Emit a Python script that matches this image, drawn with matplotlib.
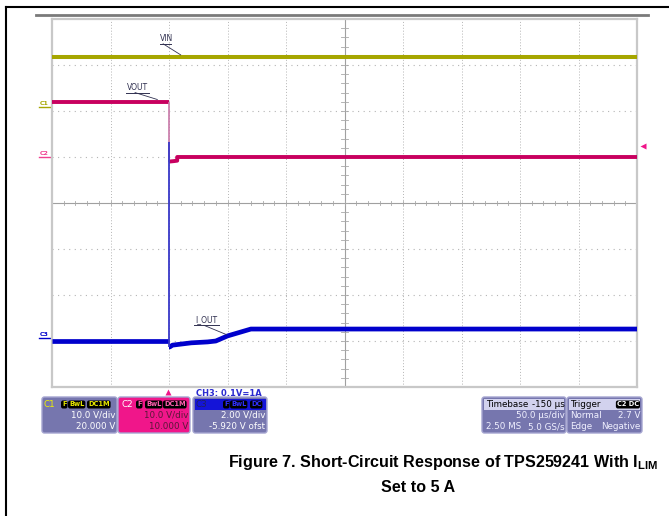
import matplotlib
matplotlib.use("Agg")
import matplotlib.pyplot as plt
from matplotlib.patches import FancyBboxPatch, Rectangle
import numpy as np

# ---------------- data (time in us relative to trigger, level in screen divisions, 0 = centre) -------------
vin_t = [-100, 400]
vin_y = [3.17, 3.17]

vout_pre_t = [-100, 0]
vout_pre_y = [2.20, 2.20]
vout_post_t = [0, 4, 7, 7, 400]
vout_post_y = [0.90, 0.91, 0.92, 1.00, 1.00]

iout_pre_t = [-100, 0]
iout_pre_y = [-3.00, -3.00]
iout_spike_peak = 1.33
iout_post_t = [0, 0.6, 3, 19, 33, 40, 50, 62, 70, 400]
iout_post_y = [-3.13, -3.13, -3.09, -3.04, -3.02, -3.00, -2.89, -2.80, -2.74, -2.74]

ch_markers = ["C1", "C2", "C3"]
ch_marker_levels = [2.09, 1.00, -2.93]

trace_labels = ["VIN", "VOUT", "I_OUT"]

c1_info = ["10.0 V/div", "20.000 V"]
c2_info = ["10.0 V/div", "10.000 V"]
c3_info = ["2.00 V/div", "-5.920 V ofst"]
timebase_info = ["-150 µs", "50.0 µs/div", "2.50 MS", "5.0 GS/s"]
trigger_info = ["C2 DC", "Normal", "2.7 V", "Edge", "Negative"]
probe_note = "CH3: 0.1V=1A"

caption1 = r"Figure 7. Short-Circuit Response of TPS259241 With I$_{\mathregular{LIM}}$"
caption2 = "Set to 5 A"

# ---------------- colours -------------
C_VIN = "#a6a600"
C_VOUT = "#c8005f"
C_IOUT = "#0000cc"
C_BOX = "#7676ae"
C_BOX_EDGE = "#a4a4d0"
C_PINK = "#f0168a"

W, H = 669, 516
fig = plt.figure(figsize=(W / 100, H / 100), dpi=100)

# overlay axes in pixel coordinates
ax0 = fig.add_axes([0, 0, 1, 1], zorder=0)
ax0.set_xlim(0, W)
ax0.set_ylim(H, 0)
ax0.axis("off")
ax0.patch.set_alpha(0)

# page frame
ax0.plot([6, W], [7, 7], color="black", lw=1.5)
ax0.plot([6, 6], [7, H], color="black", lw=1.5)
ax0.plot([36, 648], [15, 15], color="#7a7a7a", lw=2.0)

# scope axes
L, T, R, B = 52, 19, 637, 387
ax = fig.add_axes([L / W, 1 - B / H, (R - L) / W, (B - T) / H], zorder=2)
ax.set_xlim(-100, 400)
ax.set_ylim(-4, 4)
ax.patch.set_alpha(0)
for s in ax.spines.values():
    s.set_color("#c8c8c8")
    s.set_linewidth(1.6)
ax.set_xticks([])
ax.set_yticks([])

# grid
for x in np.arange(-50, 400, 50):
    if x == 150:
        continue
    ax.plot([x, x], [-4, 4], color="#b4b4b4", lw=0.7, ls=(0, (1, 2)), zorder=1)
for y in np.arange(-3, 4, 1):
    if y == 0:
        continue
    ax.plot([-100, 400], [y, y], color="#b4b4b4", lw=0.8, ls=(0, (1, 4)), zorder=1)
# centre lines with ticks
ax.plot([150, 150], [-4, 4], color="#a0a0a0", lw=0.8, zorder=1)
ax.plot([-100, 400], [0, 0], color="#a0a0a0", lw=0.8, zorder=1)
for y in np.arange(-4, 4.01, 0.2):
    ax.plot([147, 153], [y, y], color="#a8a8a8", lw=0.6, zorder=1)
for x in np.arange(-100, 400.1, 10):
    ax.plot([x, x], [-0.05, 0.05], color="#a8a8a8", lw=0.6, zorder=1)

# traces
ax.plot(vin_t, vin_y, color=C_VIN, lw=2.9, solid_capstyle="butt", zorder=3)
ax.plot(vout_pre_t, vout_pre_y, color=C_VOUT, lw=2.8, solid_capstyle="butt", zorder=4)
ax.plot(vout_post_t, vout_post_y, color=C_VOUT, lw=2.8, solid_capstyle="butt", zorder=4)
ax.vlines(vout_pre_t[-1], vout_post_y[0], vout_pre_y[-1], color="#c878a8", lw=1.2, zorder=4)
ax.plot(iout_pre_t, iout_pre_y, color=C_IOUT, lw=3.4, solid_capstyle="butt", zorder=5)
ax.plot(iout_post_t, iout_post_y, color=C_IOUT, lw=3.4, solid_capstyle="butt", zorder=5)
ax.vlines(iout_pre_t[-1], iout_post_y[0], iout_spike_peak, color="#3838c8", lw=1.3, zorder=5)

# trace labels with underline + leader
def label(txt, tx, ty, ux0, ux1, lx1, ly1):
    ax.text(tx, ty, txt, fontsize=5.5, color="#303050", ha="center", va="bottom", zorder=6,
            family="DejaVu Sans")
    ax.plot([ux0, ux1], [ty - 0.02, ty - 0.02], color="#303050", lw=0.7, zorder=6)
    ax.plot([(ux0 + ux1) / 2 - 2, lx1], [ty - 0.02, ly1], color="#303050", lw=0.6, zorder=6)

label(trace_labels[0], -2, 3.48, -8, 2, 10, vin_y[0] + 0.05)
label(trace_labels[1], -27, 2.42, -37, -17, -10, vout_pre_y[0] + 0.05)
label(trace_labels[2], 32, -2.64, 21, 43, 49, -2.86)

# channel markers on left side
mcols = [C_VIN, "#f04090", C_IOUT]
for name, lev, col in zip(ch_markers, ch_marker_levels, mcols):
    py = 203 - lev * 46
    ax0.text(44, py - 1, name, fontsize=4.5, color=col, ha="center", va="bottom", fontweight="bold")
    ax0.plot([39, 50], [py, py], color=col, lw=1.0)

# right-side trigger level marker and bottom trigger position marker
ax0.plot([643], [146], marker="<", color=C_PINK, ms=5, mec="none", clip_on=False)
ax0.plot([168], [392], marker="^", color=C_PINK, ms=5, mec="none", clip_on=False)

# ---------------- info boxes -------------
def box(x0, x1, fc, y0=397, y1=433):
    p = FancyBboxPatch((x0, y0), x1 - x0, y1 - y0, boxstyle="round,pad=0,rounding_size=2.5",
                       fc=fc, ec=C_BOX_EDGE, lw=1.0)
    ax0.add_patch(p)

def badge(x, y, txt, tc, ha="left"):
    ax0.text(x, y, txt, fontsize=4.8, color=tc, ha=ha, va="center", fontweight="bold",
             bbox=dict(boxstyle="round,pad=0.15,rounding_size=0.3", fc="black", ec="none"))

R1, R2, R3 = 404.5, 415.5, 426.5
fs = 6.3

box(42, 117, C_BOX)
ax0.text(44, R1, "C1", fontsize=fs, color="#f0f000", va="center")
badge(62, R1, "F", "#e8e800")
badge(69, R1, "BwL", "#e8e800")
badge(88, R1, "DC1M", "#e8e800")
ax0.text(115, R2, c1_info[0], fontsize=fs, color="white", ha="right", va="center")
ax0.text(115, R3, c1_info[1], fontsize=fs, color="white", ha="right", va="center")

box(118, 190, C_PINK)
ax0.text(121, R1, "C2", fontsize=fs, color="white", va="center")
badge(137, R1, "F", "#ff60b0")
badge(146, R1, "BwL", "#ff60b0")
badge(164, R1, "DC1M", "#ff60b0")
ax0.text(188, R2, c2_info[0], fontsize=fs, color="#5a1838", ha="right", va="center")
ax0.text(188, R3, c2_info[1], fontsize=fs, color="#5a1838", ha="right", va="center")

box(193, 267, C_BOX)
ax0.add_patch(Rectangle((194.5, 398.5), 71, 11, fc="#1414d8", ec="none"))
ax0.text(196, R1, "C3", fontsize=fs, color="#202060", va="center")
badge(224, R1, "F", "#3030ff")
badge(231, R1, "BwL", "#3030ff")
badge(251, R1, "DC", "#3030ff")
ax0.text(265, R2, c3_info[0], fontsize=fs, color="white", ha="right", va="center")
ax0.text(265, R3, c3_info[1], fontsize=fs, color="white", ha="right", va="center")
ax0.text(196, 393, probe_note, fontsize=6.0, color="#2a2ad0", ha="left", va="center", fontweight="bold")

box(482, 566, C_BOX)
ax0.add_patch(Rectangle((484, 398.5), 80, 11, fc="#d2d2ee", ec="none"))
ax0.text(486, R1, "Timebase", fontsize=fs, color="black", va="center")
ax0.text(565, R1, timebase_info[0], fontsize=fs, color="black", ha="right", va="center")
ax0.text(565, R2, timebase_info[1], fontsize=fs, color="#f0f0ff", ha="right", va="center")
ax0.text(486, R3, timebase_info[2], fontsize=fs, color="#f0f0ff", ha="left", va="center")
ax0.text(565, R3, timebase_info[3], fontsize=fs, color="#f0f0ff", ha="right", va="center")

box(567, 642, C_BOX)
ax0.add_patch(Rectangle((569, 398.5), 71, 11, fc="#d2d2ee", ec="none"))
ax0.text(570, R1, "Trigger", fontsize=fs, color="black", va="center")
badge(639, R1, trigger_info[0], "white", ha="right")
ax0.text(570, R2, trigger_info[1], fontsize=fs, color="#f0f0ff", ha="left", va="center")
ax0.text(640, R2, trigger_info[2], fontsize=fs, color="#f0f0ff", ha="right", va="center")
ax0.text(570, R3, trigger_info[3], fontsize=fs, color="#f0f0ff", ha="left", va="center")
ax0.text(640, R3, trigger_info[4], fontsize=fs, color="#f0f0ff", ha="right", va="center")

# ---------------- caption -------------
ax0.text(443, 462, caption1, fontsize=11.6, fontweight="bold", family="Liberation Sans",
         ha="center", va="center", color="black")
ax0.text(418, 488, caption2, fontsize=11.6, fontweight="bold", family="Liberation Sans",
         ha="center", va="center", color="black")

fig.savefig("out.png", dpi=100)
